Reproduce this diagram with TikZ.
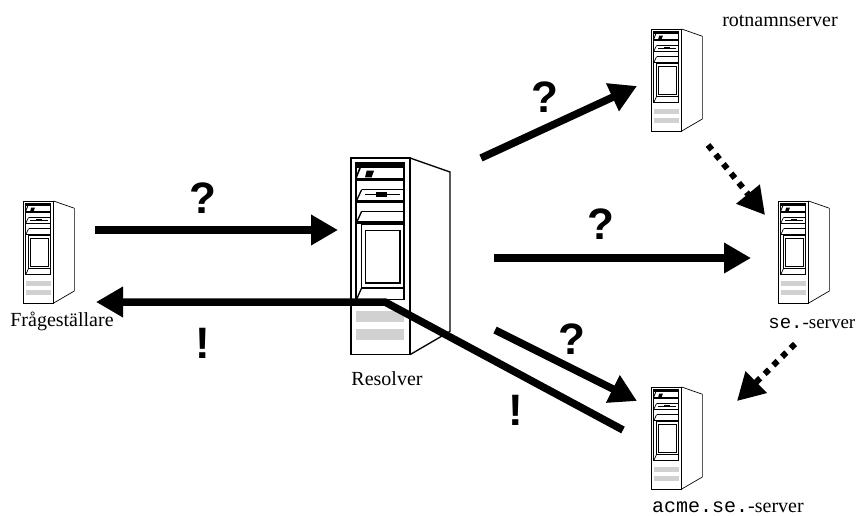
\documentclass[tikz,border=0pt]{standalone}
\usepackage{fontspec}
\setmainfont{Liberation Serif}
\setmonofont{Liberation Mono}
\newfontfamily\markfont{Liberation Sans}
\usetikzlibrary{arrows.meta}
\tikzset{
  x=1pt,y=-1pt,
  flow/.style={line width=7.5pt,-{Triangle[length=27pt,width=29pt]},line join=miter},
  back/.style={flow},
  hint/.style={line width=6pt,dash pattern=on 6pt off 6.2pt,-{Triangle[length=27pt,width=29pt]}},
  bigmark/.style={font=\markfont\bfseries\fontsize{44}{44}\selectfont,inner sep=0pt},
  lbl/.style={font=\fontsize{20}{20}\selectfont,inner sep=0pt,anchor=base},
}
\newcommand{\srv}[3]{%
 \begin{scope}[shift={(#1,#2)},x=#3pt,y=-#3pt,line join=miter]
  \fill[white] (0,0)--(177,0)--(297,42)--(297,520)--(177,590)--(0,590)--cycle;
  \fill[black!18] (15,460) rectangle (159,493);
  \fill[black!18] (15,512) rectangle (159,545);
  \draw[line width=#3*4.5pt] (0,0) rectangle (177,590);
  \draw[line width=#3*4pt] (177,0)--(297,42)--(297,520)--(177,590);
  % inner frame
  \draw[line width=#3*5pt] (15,13)--(15,425)--(159,425)--(159,13);
  \fill (15,13) rectangle (159,30);
  \draw[line width=#3*5pt] (27,30)--(15,60);
  \fill (15,59) rectangle (159,68);
  \fill (47,38)--(69,38)--(62,58)--(42,58)--cycle;
  \draw[line width=#3*4pt] (32,95)--(159,95);
  \draw[line width=#3*4pt] (32,95)--(17,127);
  \fill (15,125) rectangle (159,134);
  \draw[line width=#3*4pt] (42,110)--(147,110);
  \fill (75,103) rectangle (107,118);
  \draw[line width=#3*4pt] (32,160)--(17,193);
  \draw[line width=#3*3pt] (32,160)--(159,160);
  \fill (15,190) rectangle (159,197);
  \draw[line width=#3*4pt] (32,200) rectangle (159,390);
  \draw[line width=#3*4pt] (44,217) rectangle (147,375);
  \draw[line width=#3*4pt] (32,390)--(17,423);
 \end{scope}}
\begin{document}
\begin{tikzpicture}
\useasboundingbox (0,0) rectangle (856,516);
\fill[white] (0,0) rectangle (856,516);
\srv{351}{158}{0.3333}
\srv{23}{201}{0.173}
\srv{651}{29}{0.173}
\srv{778}{201}{0.173}
\srv{651}{387}{0.173}
\node[lbl] (asker) at (62,326.5) {Frågeställare};
\node[lbl] (resolver) at (387,385) {Resolver};
\node[lbl] (root) at (780,27) {rotnamnserver};
\node[lbl,font=\fontsize{19}{20}\selectfont,anchor=base east] (se) at (855.5,328.5) {{\ttfamily se.}-server};
\node[lbl,anchor=base west] (acme) at (652,512.5) {{\ttfamily acme.se.}-server};
\coordinate (a1) at (95,230); \coordinate (a2) at (338,230);
\coordinate (b1) at (481,158); \coordinate (b2) at (637,86);
\coordinate (c1) at (494,258); \coordinate (c2) at (751,258);
\coordinate (d1) at (495,330); \coordinate (d2) at (637,401);
\coordinate (e1) at (623,430); \coordinate (e2) at (385,302); \coordinate (e3) at (96,302);
\coordinate (f1) at (708,145); \coordinate (f2) at (765,215);
\coordinate (g1) at (795,344); \coordinate (g2) at (737,401);
\draw[flow] (a1)--(a2);
\draw[flow] (b1)--(b2);
\draw[flow] (c1)--(c2);
\draw[flow] (d1)--(d2);
\draw[back] (e1)--(e2)--(e3);
\draw[hint] (f1)--(f2);
\draw[hint] (g1)--(g2);
\node[bigmark] (q1) at (203,198) {?};
\node[bigmark] (q2) at (545,97) {?};
\node[bigmark] (q3) at (601,224) {?};
\node[bigmark] (q4) at (572,339) {?};
\node[bigmark] (x1) at (203,343) {!};
\node[bigmark] (x2) at (516,410) {!};
\end{tikzpicture}
\end{document}
